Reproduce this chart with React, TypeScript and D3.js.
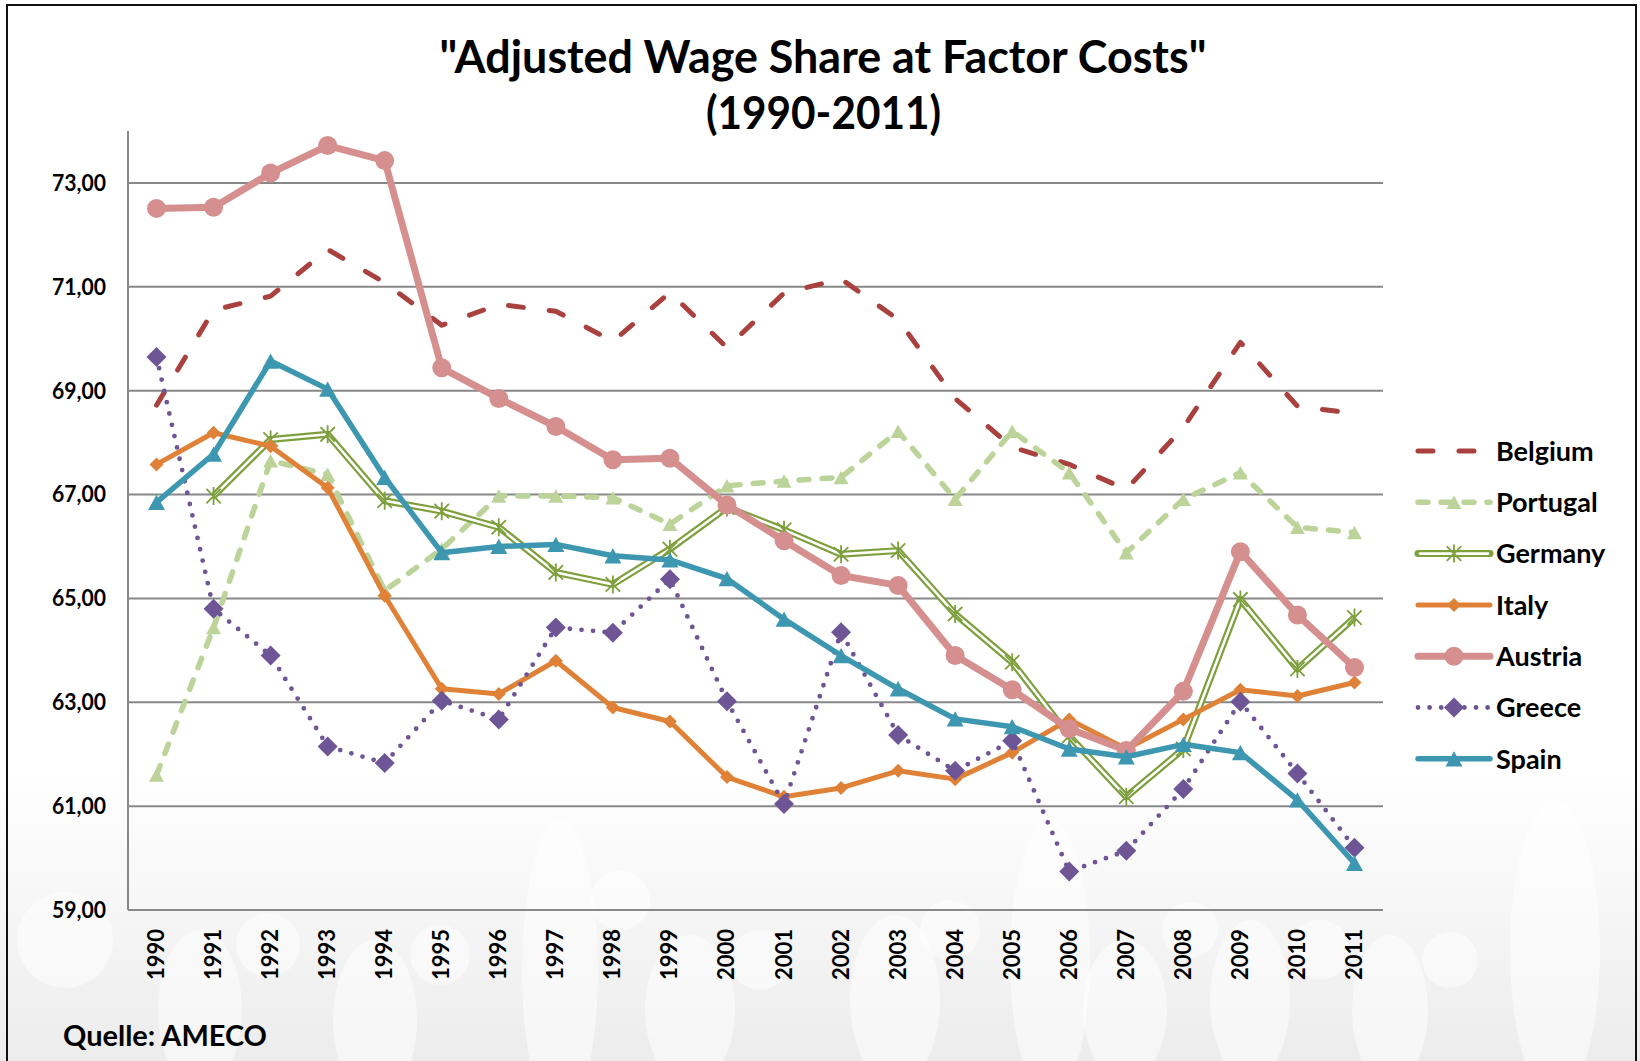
import React from 'react';
import * as d3 from 'd3';

const years = ['1990','1991','1992','1993','1994','1995','1996','1997','1998','1999','2000','2001','2002','2003','2004','2005','2006','2007','2008','2009','2010','2011'];
const yTicks = [59, 61, 63, 65, 67, 69, 71, 73];

const belgium = [68.72, 70.55, 70.82, 71.72, 71.08, 70.26, 70.66, 70.53, 69.95, 70.89, 69.83, 70.88, 71.15, 70.37, 68.85, 67.91, 67.58, 67.10, 68.29, 69.93, 68.70, 68.56];
const portugal = [61.6, 64.44, 67.65, 67.39, 65.15, 65.95, 66.97, 66.97, 66.94, 66.43, 67.17, 67.26, 67.33, 68.22, 66.91, 68.22, 67.42, 65.88, 66.91, 67.42, 66.37, 66.27];
const germany: (number | null)[] = [null, 66.97, 68.06, 68.16, 66.88, 66.68, 66.37, 65.50, 65.27, 65.95, 66.75, 66.32, 65.85, 65.92, 64.70, 63.77, 62.35, 61.18, 62.10, 64.98, 63.64, 64.63];
const italy = [67.58, 68.19, 67.93, 67.13, 65.05, 63.26, 63.16, 63.80, 62.90, 62.63, 61.56, 61.18, 61.35, 61.68, 61.52, 62.03, 62.67, 62.10, 62.67, 63.24, 63.12, 63.38];
const austria = [72.51, 72.53, 73.19, 73.72, 73.43, 69.44, 68.85, 68.31, 67.67, 67.70, 66.80, 66.11, 65.44, 65.25, 63.90, 63.24, 62.49, 62.07, 63.21, 65.90, 64.68, 63.67];
const greece = [69.65, 64.80, 63.90, 62.15, 61.83, 63.03, 62.67, 64.44, 64.34, 65.37, 63.02, 61.04, 64.35, 62.37, 61.68, 62.26, 59.74, 60.14, 61.33, 63.01, 61.63, 60.20];
const spain = [66.85, 67.78, 69.57, 69.03, 67.33, 65.88, 66.00, 66.04, 65.82, 65.74, 65.38, 64.60, 63.90, 63.26, 62.68, 62.53, 62.10, 61.95, 62.19, 62.03, 61.12, 59.90];

type Marker = 'none' | 'triangle' | 'star' | 'diamond' | 'circle';
interface Series { name: string; values: (number | null)[]; color: string; width: number; dash?: string; marker: Marker; msize: number; double?: boolean; }

const series: Series[] = [
  { name: 'Belgium', values: belgium, color: '#A9413E', width: 5, dash: '15 26', marker: 'none', msize: 0 },
  { name: 'Portugal', values: portugal, color: '#BCD39A', width: 5.5, dash: '10 13', marker: 'triangle', msize: 15 },
  { name: 'Germany', values: germany, color: '#7D9F3C', width: 7, marker: 'star', msize: 9, double: true },
  { name: 'Italy', values: italy, color: '#DF8238', width: 5, marker: 'diamond', msize: 7 },
  { name: 'Austria', values: austria, color: '#D48F8E', width: 7, marker: 'circle', msize: 9.5 },
  { name: 'Greece', values: greece, color: '#6E5596', width: 4.8, dash: '0 11.6', marker: 'diamond', msize: 10 },
  { name: 'Spain', values: spain, color: '#3D97B0', width: 5.5, marker: 'triangle', msize: 17 },
];

const decoEllipses = [
  [65, 940, 48, 48], [200, 1010, 42, 80], [268, 945, 32, 32], [375, 1020, 42, 80], [440, 955, 30, 30],
  [560, 970, 38, 150], [620, 900, 30, 30], [690, 1010, 45, 75], [760, 960, 30, 30], [895, 1000, 45, 85],
  [950, 930, 30, 30], [1050, 960, 40, 140], [1125, 1010, 42, 70], [1190, 930, 28, 28], [1250, 1000, 40, 80],
  [1320, 950, 30, 30], [1390, 1010, 38, 75], [1450, 960, 28, 28], [1555, 950, 45, 150],
];

function markerPath(m: Marker, s: number): string {
  if (m === 'triangle') {
    const h = s * 0.9;
    return `M0,${-h / 2}L${s / 2},${h / 2}L${-s / 2},${h / 2}Z`;
  }
  if (m === 'diamond') return `M0,${-s}L${s},0L0,${s}L${-s},0Z`;
  if (m === 'star') {
    const d = s * 0.8;
    return `M0,${-s}L0,${s}M${-d},${-d}L${d},${d}M${-d},${d}L${d},${-d}`;
  }
  return '';
}

function MarkerShape({ s, x, y }: { s: Series; x: number; y: number }) {
  if (s.marker === 'none') return null;
  if (s.marker === 'circle') return <circle cx={x} cy={y} r={s.msize} fill={s.color} />;
  if (s.marker === 'star') return <path d={markerPath('star', s.msize)} transform={`translate(${x},${y})`} stroke={s.color} strokeWidth={1.8} fill="none" />;
  return <path d={markerPath(s.marker, s.msize)} transform={`translate(${x},${y})`} fill={s.color} />;
}

export default function App() {
  const W = 1640, H = 1061;
  const x = d3.scaleBand<string>().domain(years).range([128, 1383]);
  const cx = (i: number) => (x(years[i]) as number) + x.bandwidth() / 2;
  const y = d3.scaleLinear().domain([59, 74]).range([910, 131]);
  const fmt = d3.formatLocale({ decimal: ',', thousands: '.', grouping: [3], currency: ['', '€'] }).format('.2f');
  const line = d3.line<number | null>().defined(d => d != null).x((_, i) => cx(i)).y(d => y(d as number));
  const font = 'Lato, "Open Sans", sans-serif';
  const legendY0 = 451, legendStep = 51.3;

  return (
    <svg width={W} height={H} style={{ position: 'absolute', left: 0, top: 0 }} fontFamily={font}>
      <defs>
        <linearGradient id="bg" x1="0" y1="0" x2="0" y2="1">
          <stop offset="0" stopColor="#ffffff" />
          <stop offset="1" stopColor="#ececec" />
        </linearGradient>
      </defs>
      <rect x={0} y={0} width={W} height={H} fill="#ffffff" />
      <rect x={0} y={770} width={W} height={H - 770} fill="url(#bg)" />
      {decoEllipses.map((e, i) => (
        <ellipse key={i} cx={e[0]} cy={e[1]} rx={e[2]} ry={e[3]} fill="#ffffff" opacity={0.5} />
      ))}
      <rect x={7} y={5} width={1629} height={1080} fill="none" stroke="#111" strokeWidth={2} />

      {/* Title */}
      <text x={823} y={73} textAnchor="middle" fontSize={46} fontWeight="bold" textLength={767} lengthAdjust="spacingAndGlyphs">"Adjusted Wage Share at Factor Costs"</text>
      <text x={823.5} y={129} textAnchor="middle" fontSize={46} fontWeight="bold" textLength={235} lengthAdjust="spacingAndGlyphs">(1990-2011)</text>

      {/* Gridlines */}
      {yTicks.map(t => (
        <g key={t}>
          <line x1={128} x2={1383} y1={y(t)} y2={y(t)} stroke="#888" strokeWidth={2} />
          <text x={106} y={y(t)} dy="0.36em" textAnchor="end" fontSize={22} fontWeight="bold" fill="#000" textLength={54} lengthAdjust="spacingAndGlyphs">{fmt(t)}</text>
        </g>
      ))}
      <line x1={128} x2={128} y1={y(74)} y2={y(59)} stroke="#888" strokeWidth={2} />
      <line x1={128} x2={1383} y1={y(59)} y2={y(59)} stroke="#888" strokeWidth={2} />

      {/* X labels */}
      {years.map((yr, i) => (
        <text key={yr} transform={`translate(${cx(i) + 7.5},929) rotate(-90)`} textAnchor="end" fontSize={22} fontWeight="bold">{yr}</text>
      ))}

      {/* Series */}
      {series.map(s => {
        const d = line(s.values) || '';
        return (
          <g key={s.name}>
            <path d={d} fill="none" stroke={s.color} strokeWidth={s.width} strokeDasharray={s.dash} strokeLinecap={s.dash ? 'round' : 'butt'} strokeLinejoin="round" />
            {s.double && <path d={d} fill="none" stroke="#ffffff" strokeWidth={2.6} strokeLinejoin="round" />}
            {s.values.map((v, i) => v == null ? null : <MarkerShape key={i} s={s} x={cx(i)} y={y(v)} />)}
          </g>
        );
      })}

      {/* Legend */}
      {series.map((s, i) => {
        const ly = legendY0 + i * legendStep;
        const d = `M1418,${ly}L1490,${ly}`;
        return (
          <g key={s.name}>
            <path d={d} fill="none" stroke={s.color} strokeWidth={s.width} strokeDasharray={s.dash} strokeLinecap="round" />
            {s.double && <path d={`M1420,${ly}L1488,${ly}`} fill="none" stroke="#ffffff" strokeWidth={2.6} strokeLinecap="round" />}
            <MarkerShape s={s} x={1454} y={ly} />
            <text x={1496} y={ly} dy="0.36em" fontSize={27} fontWeight="bold">{s.name}</text>
          </g>
        );
      })}

      <text x={63} y={1046} fontSize={29} fontWeight="bold" textLength={204} lengthAdjust="spacingAndGlyphs">Quelle: AMECO</text>
    </svg>
  );
}
